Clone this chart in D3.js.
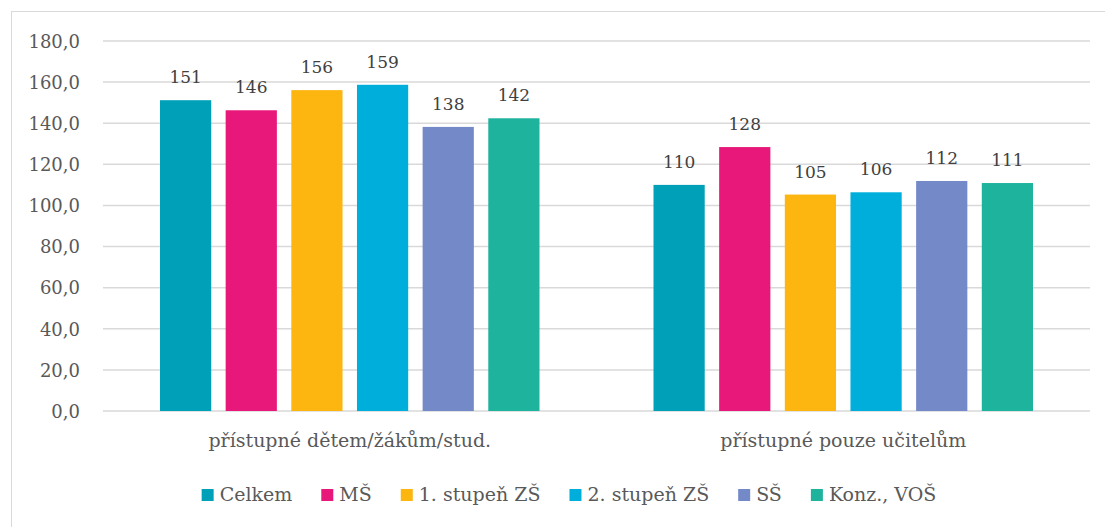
<!DOCTYPE html>
<html>
<head>
<meta charset="utf-8">
<script src="https://cdn.jsdelivr.net/npm/d3@7"></script>
<style>
  html, body { margin: 0; padding: 0; background: #fff; }
  svg { display: block; }
</style>
</head>
<body>
<svg id="chart" width="1105" height="527"></svg>
<script>
const categories = ["přístupné dětem/žákům/stud.", "přístupné pouze učitelům"];
const seriesNames = ["Celkem", "MŠ", "1. stupeň ZŠ", "2. stupeň ZŠ", "SŠ", "Konz., VOŠ"];
const seriesColors = ["#00A0B8", "#E8177A", "#FDB50F", "#00AEDC", "#7489C8", "#1DB39D"];
const valuesCelkem = [151.2, 110.0];
const valuesMS = [146.3, 128.4];
const valuesZS1 = [156.1, 105.3];
const valuesZS2 = [158.7, 106.4];
const valuesSS = [138.2, 111.9];
const valuesKonz = [142.4, 110.9];
const seriesValues = [valuesCelkem, valuesMS, valuesZS1, valuesZS2, valuesSS, valuesKonz];
const yTicks = [0, 20, 40, 60, 80, 100, 120, 140, 160, 180];

const svg = d3.select("#chart");
const font = "'DejaVu Serif', 'Liberation Serif', serif";
const textColor = "#595959";

// outer frame
svg.append("rect").attr("x", 11.5).attr("y", 11.5).attr("width", 1110).attr("height", 530)
  .attr("fill", "none").attr("stroke", "#D9D9D9").attr("stroke-width", 1);

const plotLeft = 103, plotRight = 1090, plotTop = 41, plotBottom = 411;
const y = d3.scaleLinear().domain([0, 180]).range([plotBottom, plotTop]);
const x0 = d3.scaleBand().domain(categories).range([plotLeft, plotRight]).paddingInner(0).paddingOuter(0);
const x1 = d3.scaleBand().domain(seriesNames).range([57, x0.bandwidth() - 57]).paddingInner(0.22).paddingOuter(0);

// gridlines
svg.append("g").selectAll("line").data(yTicks).join("line")
  .attr("x1", plotLeft).attr("x2", plotRight)
  .attr("y1", d => y(d)).attr("y2", d => y(d))
  .attr("stroke", "#D9D9D9").attr("stroke-width", 1.5);

// y axis labels
const fmt = d => d3.format(".1f")(d).replace(".", ",");
const yAxis = d3.axisLeft(y).tickValues(yTicks).tickFormat(fmt).tickSize(0).tickPadding(0);
const gy = svg.append("g").attr("transform", "translate(80,0)").call(yAxis);
gy.select(".domain").remove();
gy.selectAll("text").attr("font-family", font).attr("font-size", 18).attr("fill", textColor).attr("dy", "0.35em");

// bars
const groups = svg.append("g").selectAll("g").data(categories).join("g")
  .attr("transform", d => `translate(${x0(d)},0)`);

groups.each(function(cat, ci) {
  const g = d3.select(this);
  const data = seriesNames.map((s, si) => ({ s, si, v: seriesValues[si][ci] }));
  g.selectAll("rect").data(data).join("rect")
    .attr("x", d => x1(d.s)).attr("width", x1.bandwidth())
    .attr("y", d => y(d.v)).attr("height", d => y(0) - y(d.v))
    .attr("fill", d => seriesColors[d.si]);
  g.selectAll("text").data(data).join("text")
    .attr("x", d => x1(d.s) + x1.bandwidth() / 2)
    .attr("y", d => y(d.v) - 17)
    .attr("text-anchor", "middle")
    .attr("font-family", font).attr("font-size", 17).attr("fill", "#404040")
    .text(d => d3.format(".0f")(d.v));
});

// category labels
const xAxis = d3.axisBottom(x0).tickSize(0).tickPadding(0);
const gx = svg.append("g").attr("transform", `translate(0,${plotBottom})`).call(xAxis);
gx.select(".domain").remove();
gx.selectAll("text").attr("font-family", font).attr("font-size", 19).attr("fill", textColor)
  .attr("dy", 0).attr("y", 36);

// legend
const legend = svg.append("g");
const items = legend.selectAll("g").data(seriesNames).join("g");
items.append("rect").attr("width", 12).attr("height", 12).attr("y", -12)
  .attr("fill", (d, i) => seriesColors[i]);
items.append("text").attr("x", 18).attr("y", 0)
  .attr("font-family", font).attr("font-size", 19).attr("fill", textColor).text(d => d);
let widths = [];
items.each(function() { widths.push(this.getBBox().width); });
const gap = 29;
const total = d3.sum(widths) + gap * (widths.length - 1);
let cx = 569 - total / 2;
items.attr("transform", (d, i) => { const t = `translate(${cx},501)`; cx += widths[i] + gap; return t; });
</script>
</body>
</html>
